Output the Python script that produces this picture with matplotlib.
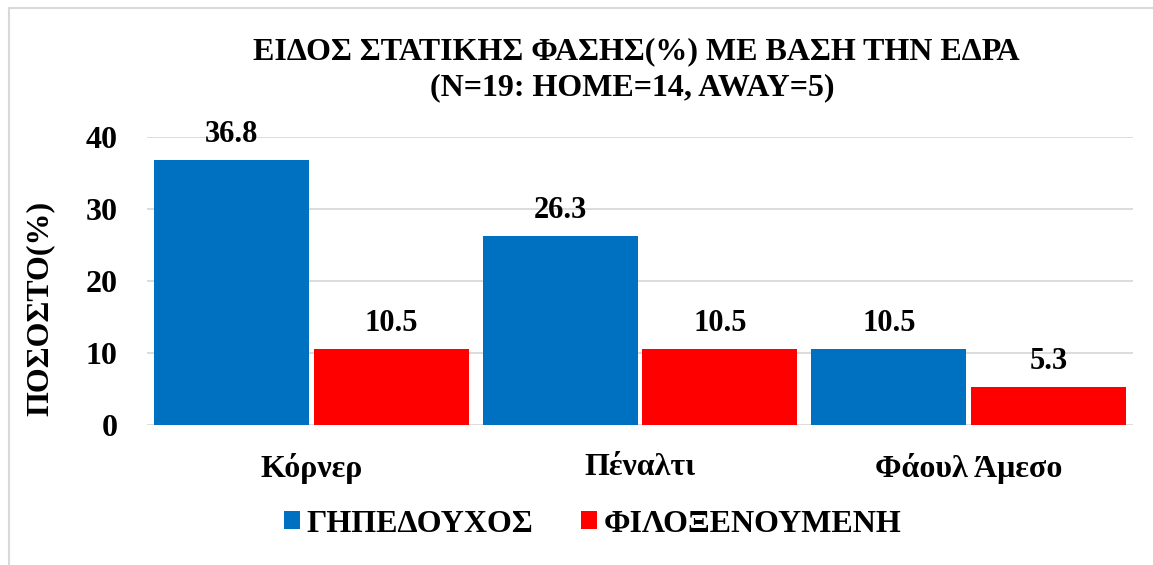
import matplotlib
matplotlib.use("Agg")
import matplotlib.pyplot as plt
import numpy as np
from matplotlib.lines import Line2D

plt.rcParams['font.family'] = ['Liberation Serif', 'DejaVu Serif']
plt.rcParams['font.weight'] = 'bold'

# data
categories = ['Κόρνερ', 'Πέναλτι', 'Φάουλ Άμεσο']
home = [36.8, 26.3, 10.5]
away = [10.5, 10.5, 5.3]
series_names = ['ΓΗΠΕΔΟΥΧΟΣ', 'ΦΙΛΟΞΕΝΟΥΜΕΝΗ']
yticks = [0, 10, 20, 30, 40]

W, H = 1153, 565
fig = plt.figure(figsize=(W/100, H/100), dpi=100)
ax = fig.add_axes([147/W, 1-425/H, (1133-147)/W, (425-137)/H])

x = np.arange(len(categories))
w = 0.472
off = 0.486
b1 = ax.bar(x - off/2, home, w, color='#0070C0', zorder=3, label=series_names[0])
b2 = ax.bar(x + off/2, away, w, color='#FF0000', zorder=3, label=series_names[1])

for bars in (b1, b2):
    for r in bars:
        ax.annotate(f'{r.get_height():.1f}', (r.get_x() + r.get_width()/2, r.get_height()),
                    xytext=(0, 8), textcoords='offset points', ha='center', va='bottom',
                    fontsize=22, fontweight='bold')

ax.set_xlim(-0.5, 2.5)
ax.set_ylim(0, 40)
ax.set_yticks(yticks)
ax.set_xticks(x)
ax.set_xticklabels(categories, fontsize=23, fontweight='bold')
ax.tick_params(axis='y', labelsize=23, length=0, pad=21)
ax.tick_params(axis='x', length=0, pad=20)
ax.yaxis.grid(True, color='#D9D9D9', linewidth=1.3, zorder=0)
for s in ax.spines.values():
    s.set_visible(False)

fig.text(40/W, 1-308/H, 'ΠΟΣΟΣΤΟ(%)', rotation=90, ha='center', va='center',
         fontsize=23, fontweight='bold')

fig.text(636/W, 1-52/H, 'ΕΙΔΟΣ ΣΤΑΤΙΚΗΣ ΦΑΣΗΣ(%) ΜΕ ΒΑΣΗ ΤΗΝ ΕΔΡΑ',
         ha='center', va='center', fontsize=23, fontweight='bold')
fig.text(632/W, 1-88/H, '(N=19: HOME=14, AWAY=5)',
         ha='center', va='center', fontsize=23, fontweight='bold')

fig.legend(loc='center', bbox_to_anchor=(593/W, 1-524/H), ncol=2, frameon=False,
           prop={'size': 23, 'weight': 'bold'}, handlelength=0.5, handleheight=0.5,
           handletextpad=0.2, columnspacing=1.5)

# only top and left edges of the chart frame are visible
fig.add_artist(Line2D([9/W, 9/W], [0, 1-8/H], transform=fig.transFigure, color='#D9D9D9', lw=1.5))
fig.add_artist(Line2D([9/W, 1], [1-8/H, 1-8/H], transform=fig.transFigure, color='#D9D9D9', lw=1.5))

fig.savefig('out.png', dpi=100)
